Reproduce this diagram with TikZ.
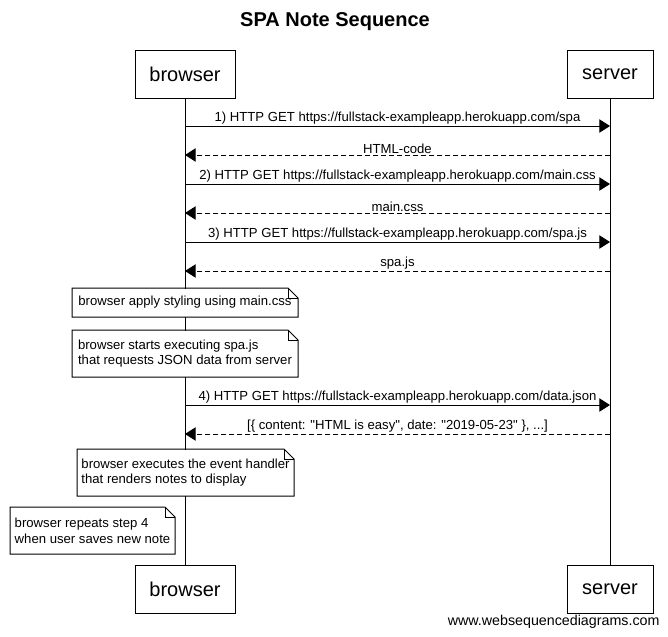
\documentclass[tikz,border=0pt]{standalone}
\usepackage{fontspec}
\setmainfont{Liberation Sans}[Ligatures=TeXOff]
\usetikzlibrary{arrows.meta}

\begin{document}
\begin{tikzpicture}[%
		x=0.75pt, y=-0.75pt,
		line width=0.75pt,
		every node/.style={%
			font=\fontsize{9.85}{11.8}\selectfont
		},
		actor/.style={%
			draw,
			fill=white,
			minimum height=36pt,
			font=\fontsize{15}{18}\selectfont
		},
		note/.style={%
			fill=white,
			anchor=north west,
			align=left,
			inner xsep=0pt,
			inner ysep=0pt
		},
		msg/.style={-{Triangle[length=8pt,width=10pt]}},
		reply/.style={msg, dash pattern=on 3.75pt off 2.25pt},
		lbl/.style={above, inner sep=0.75pt}
	]

	\useasboundingbox (0,0) rectangle (668,636);

	\node (title) at (335,22) {\fontsize{15}{18}\selectfont\bfseries SPA Note Sequence};

	% participants
	\node (browserTop) [actor, minimum width=75pt] at (185,74) {browser};
	\node (serverTop) [actor, minimum width=64.5pt] at (610,74) {server};
	\node (browserBot) [actor, minimum width=75pt] at (185,589) {browser};
	\node (serverBot) [actor, minimum width=64.5pt] at (610,589) {server};

	\draw (browserTop) -- (browserBot);
	\draw (serverTop) -- (serverBot);

	% messages
	\foreach \i/\y in {1/126, 2/155, 3/184, 4/213, 5/242, 6/271, 7/405, 8/434} {
		\coordinate (b\i) at (185,\y);
		\coordinate (s\i) at (610,\y);
	}

	\draw[msg] (b1) -- node[lbl] {1) HTTP GET https://fullstack-exampleapp.herokuapp.com/spa} (s1);
	\draw[reply] (s2) -- node[lbl] {HTML-code} (b2);
	\draw[msg] (b3) -- node[lbl] {2) HTTP GET https://fullstack-exampleapp.herokuapp.com/main.css} (s3);
	\draw[reply] (s4) -- node[lbl] {main.css} (b4);
	\draw[msg] (b5) -- node[lbl] {3) HTTP GET https://fullstack-exampleapp.herokuapp.com/spa.js} (s5);
	\draw[reply] (s6) -- node[lbl] {spa.js} (b6);
	\draw[msg] (b7) -- node[lbl] {4) HTTP GET https://fullstack-exampleapp.herokuapp.com/data.json} (s7);
	\draw[reply] (s8) -- node[lbl] {[\{ content: "HTML is easy", date: "2019-05-23" \}, ...]} (b8);

	% notes
	\node (noteA) [note, minimum width=168.75pt, minimum height=21pt] at (72,288)
		{browser apply styling using main.css};
	\node (noteB) [note, minimum width=168.75pt, minimum height=34.5pt] at (72,330)
		{browser starts executing spa.js\\that requests JSON data from server};
	\node (noteC) [note, minimum width=162pt, minimum height=34.5pt] at (77,449)
		{browser executes the event handler\\that renders notes to display};
	\node (noteD) [note, minimum width=123pt, minimum height=34.5pt] at (10,507)
		{browser repeats step 4\\when user saves new note};

	\foreach \n in {noteA, noteB, noteC, noteD} {
		\draw (\n.north west) -- ([xshift=-7.5pt]\n.north east)
			-- ([yshift=-7.5pt]\n.north east) -- (\n.south east)
			-- (\n.south west) -- cycle;
		\draw ([xshift=-7.5pt]\n.north east) |- ([yshift=-7.5pt]\n.north east);
	}

	\node (footer) [anchor=east, inner sep=0pt, font=\fontsize{10.7}{13}\selectfont] at (660,622) {www.websequencediagrams.com};
\end{tikzpicture}
\end{document}
